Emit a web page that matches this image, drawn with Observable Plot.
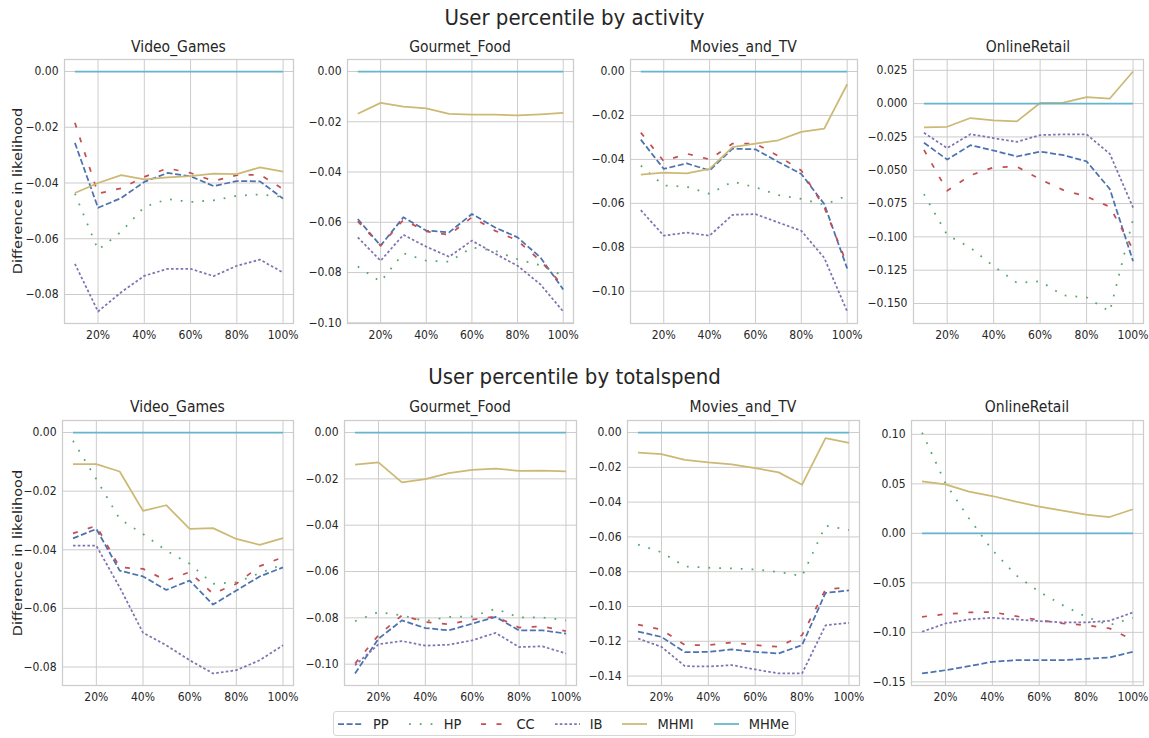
<!DOCTYPE html>
<html><head><meta charset="utf-8">
<script src="https://cdn.jsdelivr.net/npm/d3@7"></script>
<script src="https://cdn.jsdelivr.net/npm/@observablehq/plot@0.6"></script>
<style>
body{margin:0;background:#fff;}
#root{position:relative;width:1149px;height:738px;overflow:hidden;font-family:"DejaVu Sans Condensed","DejaVu Sans",sans-serif;color:#262626;background:#fff;}
.sup{position:absolute;left:0;width:1149px;text-align:center;font-size:22px;line-height:22px;white-space:nowrap;}
.ttl{position:absolute;text-align:center;font-size:15.5px;line-height:16px;white-space:nowrap;}
.ylab{position:absolute;font-family:"DejaVu Sans",sans-serif;font-size:14.5px;line-height:16px;white-space:nowrap;width:200px;text-align:center;}
.panel{position:absolute;}
#legend{position:absolute;left:333px;top:711px;height:25px;box-sizing:border-box;border:1px solid #d6d6d6;border-radius:3px;display:flex;align-items:center;padding:0 6px 0 4px;background:#fff;font-size:14.5px;}
.item{display:flex;align-items:center;margin-right:20px;}
.item:last-child{margin-right:0;}
.item svg{margin-right:10px;}
</style></head>
<body><div id="root"></div>
<script>
// ---------- data ----------
const percentiles = [10, 20, 30, 40, 50, 60, 70, 80, 90, 100];
const xTickValues = [20, 40, 60, 80, 100];
const seriesNames = ["PP", "HP", "CC", "IB", "MHMI", "MHMe"];
const categories = ["Video_Games", "Gourmet_Food", "Movies_and_TV", "OnlineRetail"];
const groupTitles = ["User percentile by activity", "User percentile by totalspend"];
const yAxisLabel = "Difference in likelihood";

// activity
const act_VG_PP   = [-0.0256,-0.0489,-0.0454,-0.0396,-0.0364,-0.0376,-0.0411,-0.0393,-0.0394,-0.0456];
const act_VG_HP   = [-0.0438,-0.0640,-0.0575,-0.0486,-0.0458,-0.0468,-0.0462,-0.0446,-0.0441,-0.0450];
const act_VG_CC   = [-0.0184,-0.0438,-0.0419,-0.0378,-0.0347,-0.0364,-0.0393,-0.0372,-0.0370,-0.0422];
const act_VG_IB   = [-0.0690,-0.0861,-0.0792,-0.0733,-0.0708,-0.0708,-0.0734,-0.0697,-0.0675,-0.0721];
const act_VG_MHMI = [-0.0436,-0.0400,-0.0372,-0.0387,-0.0380,-0.0375,-0.0366,-0.0368,-0.0344,-0.0359];
const act_VG_MHMe = [0,0,0,0,0,0,0,0,0,0];

const act_GF_PP   = [-0.0587,-0.0693,-0.0580,-0.0633,-0.0640,-0.0567,-0.0620,-0.0660,-0.0740,-0.0867];
const act_GF_HP   = [-0.0776,-0.0836,-0.0723,-0.0753,-0.0757,-0.0700,-0.0713,-0.0747,-0.0771,-0.0813];
const act_GF_CC   = [-0.0596,-0.0693,-0.0590,-0.0636,-0.0650,-0.0580,-0.0633,-0.0673,-0.0753,-0.0853];
const act_GF_IB   = [-0.0660,-0.0753,-0.0650,-0.0697,-0.0737,-0.0673,-0.0724,-0.0773,-0.0847,-0.0955];
const act_GF_MHMI = [-0.0168,-0.0125,-0.0140,-0.0147,-0.0169,-0.0172,-0.0172,-0.0175,-0.0171,-0.0165];
const act_GF_MHMe = [0,0,0,0,0,0,0,0,0,0];

const act_MT_PP   = [-0.0310,-0.0443,-0.0418,-0.0450,-0.0351,-0.0354,-0.0412,-0.0466,-0.0603,-0.0896];
const act_MT_HP   = [-0.0428,-0.0519,-0.0524,-0.0557,-0.0501,-0.0527,-0.0562,-0.0580,-0.0606,-0.0565];
const act_MT_CC   = [-0.0278,-0.0408,-0.0374,-0.0400,-0.0328,-0.0328,-0.0385,-0.0450,-0.0618,-0.0878];
const act_MT_IB   = [-0.0631,-0.0747,-0.0733,-0.0747,-0.0652,-0.0649,-0.0687,-0.0725,-0.0848,-0.1092];
const act_MT_MHMI = [-0.0469,-0.0460,-0.0464,-0.0443,-0.0344,-0.0328,-0.0313,-0.0275,-0.0260,-0.0058];
const act_MT_MHMe = [0,0,0,0,0,0,0,0,0,0];

const act_OR_PP   = [-0.0294,-0.0420,-0.0312,-0.0352,-0.0397,-0.0360,-0.0387,-0.0433,-0.0641,-0.1182];
const act_OR_HP   = [-0.0679,-0.0986,-0.1081,-0.1220,-0.1345,-0.1333,-0.1439,-0.1454,-0.1560,-0.0868];
const act_OR_CC   = [-0.0347,-0.0654,-0.0538,-0.0478,-0.0473,-0.0568,-0.0649,-0.0697,-0.0775,-0.1094];
const act_OR_IB   = [-0.0219,-0.0334,-0.0229,-0.0259,-0.0287,-0.0236,-0.0231,-0.0231,-0.0377,-0.0780];
const act_OR_MHMI = [-0.0179,-0.0174,-0.0108,-0.0126,-0.0133,0.0005,0.0008,0.0048,0.0038,0.0241];
const act_OR_MHMe = [0,0,0,0,0,0,0,0,0,0];

// totalspend
const tot_VG_PP   = [-0.0361,-0.0329,-0.0471,-0.0491,-0.0537,-0.0505,-0.0587,-0.0539,-0.0491,-0.0460];
const tot_VG_HP   = [-0.0028,-0.0159,-0.0295,-0.0346,-0.0403,-0.0448,-0.0516,-0.0511,-0.0480,-0.0450];
const tot_VG_CC   = [-0.0344,-0.0318,-0.0460,-0.0465,-0.0505,-0.0476,-0.0550,-0.0516,-0.0456,-0.0425];
const tot_VG_IB   = [-0.0386,-0.0386,-0.0528,-0.0683,-0.0726,-0.0777,-0.0822,-0.0811,-0.0777,-0.0726];
const tot_VG_MHMI = [-0.0108,-0.0108,-0.0133,-0.0267,-0.0248,-0.0329,-0.0326,-0.0363,-0.0383,-0.0360];
const tot_VG_MHMe = [0,0,0,0,0,0,0,0,0,0];

const tot_GF_PP   = [-0.1040,-0.0890,-0.0811,-0.0844,-0.0854,-0.0825,-0.0796,-0.0854,-0.0854,-0.0868];
const tot_GF_HP   = [-0.0814,-0.0775,-0.0789,-0.0814,-0.0796,-0.0794,-0.0761,-0.0798,-0.0798,-0.0811];
const tot_GF_CC   = [-0.0997,-0.0875,-0.0789,-0.0818,-0.0828,-0.0808,-0.0794,-0.0842,-0.0837,-0.0857];
const tot_GF_IB   = [-0.1005,-0.0914,-0.0900,-0.0920,-0.0916,-0.0897,-0.0865,-0.0926,-0.0923,-0.0954];
const tot_GF_MHMI = [-0.0139,-0.0129,-0.0215,-0.0201,-0.0175,-0.0161,-0.0156,-0.0165,-0.0164,-0.0168];
const tot_GF_MHMe = [0,0,0,0,0,0,0,0,0,0];

const tot_MT_PP   = [-0.1144,-0.1175,-0.1263,-0.1261,-0.1247,-0.1261,-0.1270,-0.1222,-0.0922,-0.0907];
const tot_MT_HP   = [-0.0644,-0.0688,-0.0770,-0.0777,-0.0781,-0.0787,-0.0802,-0.0825,-0.0535,-0.0560];
const tot_MT_CC   = [-0.1104,-0.1133,-0.1222,-0.1222,-0.1207,-0.1222,-0.1232,-0.1165,-0.0903,-0.0888];
const tot_MT_IB   = [-0.1184,-0.1232,-0.1343,-0.1345,-0.1337,-0.1362,-0.1385,-0.1385,-0.1108,-0.1094];
const tot_MT_MHMI = [-0.0115,-0.0124,-0.0157,-0.0172,-0.0183,-0.0204,-0.0229,-0.0300,-0.0032,-0.0059];
const tot_MT_MHMe = [0,0,0,0,0,0,0,0,0,0];

const tot_OR_PP   = [-0.1415,-0.1382,-0.1341,-0.1297,-0.1281,-0.1281,-0.1281,-0.1267,-0.1254,-0.1196];
const tot_OR_HP   = [0.1018,0.0506,0.0152,-0.0169,-0.0421,-0.0590,-0.0725,-0.0843,-0.0927,-0.0853];
const tot_OR_CC   = [-0.0843,-0.0816,-0.0799,-0.0795,-0.0836,-0.0876,-0.0910,-0.0927,-0.0960,-0.1078];
const tot_OR_IB   = [-0.0994,-0.0910,-0.0869,-0.0853,-0.0869,-0.0886,-0.0900,-0.0900,-0.0883,-0.0799];
const tot_OR_MHMI = [0.0526,0.0495,0.0421,0.0377,0.0320,0.0270,0.0229,0.0189,0.0165,0.0243];
const tot_OR_MHMe = [0,0,0,0,0,0,0,0,0,0];

// y tick labels per panel
const act_yTicks = [
  [0, -0.02, -0.04, -0.06, -0.08],
  [0, -0.02, -0.04, -0.06, -0.08, -0.10],
  [0, -0.02, -0.04, -0.06, -0.08, -0.10],
  [0.025, 0, -0.025, -0.05, -0.075, -0.10, -0.125, -0.15]
];
const tot_yTicks = [
  [0, -0.02, -0.04, -0.06, -0.08],
  [0, -0.02, -0.04, -0.06, -0.08, -0.10],
  [0, -0.02, -0.04, -0.06, -0.08, -0.10, -0.12, -0.14],
  [0.10, 0.05, 0, -0.05, -0.10, -0.15]
];
const act_yDecimals = [2, 2, 2, 3];
const tot_yDecimals = [2, 2, 2, 2];

// ---------- styles & layout ----------
const colors = {PP:"#4C72B0", HP:"#55A868", CC:"#C44E52", IB:"#8172B2", MHMI:"#CCB974", MHMe:"#64B5CD"};
const dashes = {PP:"6,2.6", HP:"1.8,9", CC:"5,10.5", IB:"2.6,2.2", MHMI:null, MHMe:null};
const LW = 1.75;

const act_sets = [
  [act_VG_PP, act_VG_HP, act_VG_CC, act_VG_IB, act_VG_MHMI, act_VG_MHMe],
  [act_GF_PP, act_GF_HP, act_GF_CC, act_GF_IB, act_GF_MHMI, act_GF_MHMe],
  [act_MT_PP, act_MT_HP, act_MT_CC, act_MT_IB, act_MT_MHMI, act_MT_MHMe],
  [act_OR_PP, act_OR_HP, act_OR_CC, act_OR_IB, act_OR_MHMI, act_OR_MHMe]
];
const tot_sets = [
  [tot_VG_PP, tot_VG_HP, tot_VG_CC, tot_VG_IB, tot_VG_MHMI, tot_VG_MHMe],
  [tot_GF_PP, tot_GF_HP, tot_GF_CC, tot_GF_IB, tot_GF_MHMI, tot_GF_MHMe],
  [tot_MT_PP, tot_MT_HP, tot_MT_CC, tot_MT_IB, tot_MT_MHMI, tot_MT_MHMe],
  [tot_OR_PP, tot_OR_HP, tot_OR_CC, tot_OR_IB, tot_OR_MHMI, tot_OR_MHMe]
];

const rowsLayout = [
  {top:59, bottom:323, frames:[[64,293],[347,573],[630,857],[913,1143]], titleY:47, supY:18, sets:act_sets, ticks:act_yTicks, dec:act_yDecimals},
  {top:420, bottom:685, frames:[[62,293],[344,576],[627,859],[911,1143]], titleY:407, supY:377, sets:tot_sets, ticks:tot_yTicks, dec:tot_yDecimals}
];

const root = document.getElementById("root");
const ML = 60, MR = 6, MT = 4, MB = 24;

rowsLayout.forEach((row, gi) => {
  const sup = document.createElement("div");
  sup.className = "sup";
  sup.textContent = groupTitles[gi];
  sup.style.top = (row.supY - 11) + "px";
  root.appendChild(sup);

  const yl = document.createElement("div");
  yl.className = "ylab";
  yl.textContent = yAxisLabel;
  yl.style.left = (18 - 100) + "px";
  yl.style.top = ((row.top + row.bottom) / 2 - 8) + "px";
  yl.style.transform = "rotate(-90deg) scale(1, 0.88)";
  root.appendChild(yl);

  row.frames.forEach(([l, r], ci) => {
    const set = row.sets[ci];
    const data = [];
    set.forEach((vals, si) => vals.forEach((v, i) => data.push({p: percentiles[i], v, s: seriesNames[si]})));
    const lo = d3.min(data, d => d.v), hi = d3.max(data, d => d.v);
    const pad = (hi - lo) * 0.05;
    const xExt = d3.extent(percentiles);
    const xPad = (xExt[1] - xExt[0]) * 0.05;
    const yTicks = row.ticks[ci];
    const fmt = d3.format("." + row.dec[ci] + "f");
    const fw = r - l, fh = row.bottom - row.top;

    const chart = Plot.plot({
      width: fw + ML + MR,
      height: fh + MT + MB,
      marginLeft: ML, marginRight: MR, marginTop: MT, marginBottom: MB,
      style: {fontFamily: '"DejaVu Sans Condensed","DejaVu Sans",sans-serif', fontSize: "12px", color: "#262626", background: "transparent", overflow: "visible"},
      x: {domain: [xExt[0] - xPad, xExt[1] + xPad], label: null},
      y: {domain: [lo - pad, hi + pad], label: null},
      marks: [
        Plot.gridX(xTickValues, {stroke: "#cccccc", strokeOpacity: 1, strokeWidth: 1}),
        Plot.gridY(yTicks, {stroke: "#cccccc", strokeOpacity: 1, strokeWidth: 1}),
        Plot.frame({stroke: "#cccccc", strokeWidth: 1.25}),
        ...seriesNames.map(s => Plot.line(data.filter(d => d.s === s), {
          x: "p", y: "v", stroke: colors[s], strokeWidth: LW,
          strokeDasharray: dashes[s] || undefined, strokeLinecap: "butt", strokeLinejoin: "round"
        })),
        Plot.axisX(xTickValues, {tickSize: 0, tickPadding: 7, tickFormat: d => d + "%", label: null}),
        Plot.axisY(yTicks, {tickSize: 0, tickPadding: 6, tickFormat: fmt, label: null})
      ]
    });
    const wrap = document.createElement("div");
    wrap.className = "panel";
    wrap.style.left = (l - ML) + "px";
    wrap.style.top = (row.top - MT) + "px";
    wrap.appendChild(chart);
    root.appendChild(wrap);

    const t = document.createElement("div");
    t.className = "ttl";
    t.textContent = categories[ci];
    t.style.left = l + "px";
    t.style.width = fw + "px";
    t.style.top = (row.titleY - 8) + "px";
    root.appendChild(t);
  });
});

// legend
const legend = document.createElement("div");
legend.id = "legend";
seriesNames.forEach(s => {
  const it = document.createElement("div");
  it.className = "item";
  const ns = "http://www.w3.org/2000/svg";
  const svg = document.createElementNS(ns, "svg");
  svg.setAttribute("width", 25); svg.setAttribute("height", 10);
  const ln = document.createElementNS(ns, "line");
  ln.setAttribute("x1", 0); ln.setAttribute("x2", 25);
  ln.setAttribute("y1", 5); ln.setAttribute("y2", 5);
  ln.setAttribute("stroke", colors[s]);
  ln.setAttribute("stroke-width", LW);
  if (dashes[s]) ln.setAttribute("stroke-dasharray", dashes[s]);
  svg.appendChild(ln);
  const tx = document.createElement("span");
  tx.textContent = s;
  it.appendChild(svg); it.appendChild(tx);
  legend.appendChild(it);
});
root.appendChild(legend);
</script>
</body></html>
